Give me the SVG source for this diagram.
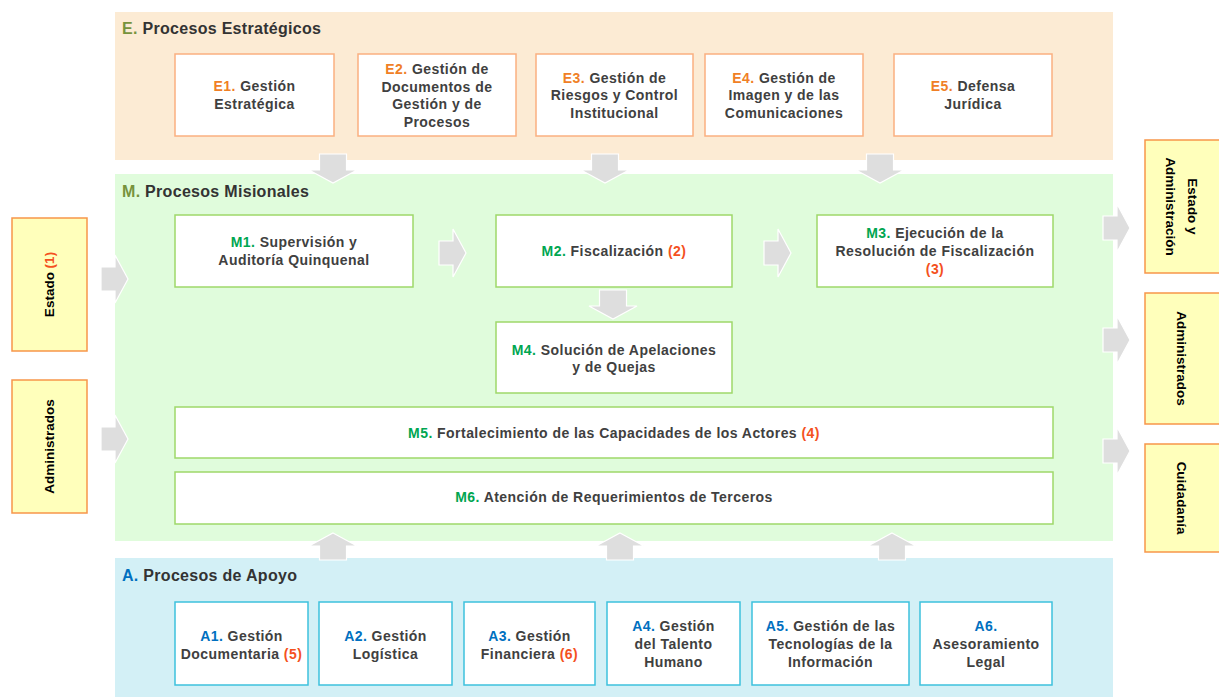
<svg xmlns="http://www.w3.org/2000/svg" width="1219" height="697" viewBox="0 0 1219 697">
<style>
  .t{font-family:"Liberation Sans",Arial,sans-serif;font-weight:bold;font-size:14px;letter-spacing:0.45px;fill:#404040;text-anchor:middle}
  .title{font-family:"Liberation Sans",Arial,sans-serif;font-weight:bold;font-size:16px;letter-spacing:0.3px;fill:#333333}
  .side{font-family:"Liberation Sans",Arial,sans-serif;font-weight:bold;font-size:13.5px;fill:#000;text-anchor:middle}
  .eo{fill:#F07F26}
  .mg{fill:#00A651}
  .ab{fill:#0070C0}
  .ol{fill:#77933C}
  .rd{fill:#F4511E}
  .eb{fill:#fff;stroke:#FAB080;stroke-width:1.5}
  .mb{fill:#fff;stroke:#9ED86A;stroke-width:1.5}
  .abx{fill:#fff;stroke:#3EC1DD;stroke-width:1.5}
  .yb{fill:#FFFFBB;stroke:#F7964A;stroke-width:1.5}
  .arr{fill:#DEDEDE;stroke:#fff;stroke-width:1.2}
</style>
<defs>
  <path id="dn" d="M-13.5,0 H13.5 V16 H24 L0,29 L-24,16 H-13.5 Z"/>
  <path id="up" d="M0,0 L24,13 H13.5 V27 H-13.5 V13 H-24 Z"/>
  <path id="rt" d="M0,-12 H14 V-24 L27,0 L14,24 V12 H0 Z"/>
</defs>

<!-- bands -->
<g id="band-E">
  <rect x="115" y="12" width="998" height="148" fill="#FCEBD4"/>
  <text class="title" x="122" y="34"><tspan class="ol">E.</tspan> Procesos Estratégicos</text>
</g>
<g id="band-M">
  <rect x="115" y="174" width="998" height="367" fill="#E0FCDC"/>
  <text class="title" x="122" y="197"><tspan class="ol">M.</tspan> Procesos Misionales</text>
</g>
<g id="band-A">
  <rect x="115" y="558" width="998" height="139" fill="#D3F0F6"/>
  <text class="title" x="122" y="581"><tspan class="ab">A.</tspan> Procesos de Apoyo</text>
</g>

<!-- connectors -->
<g id="connectors">
  <use href="#dn" class="arr" transform="translate(333,154)"/>
  <use href="#dn" class="arr" transform="translate(605,154)"/>
  <use href="#dn" class="arr" transform="translate(880,154)"/>
  <use href="#dn" class="arr" transform="translate(613,290)"/>
  <use href="#rt" class="arr" transform="translate(439,253)"/>
  <use href="#rt" class="arr" transform="translate(764,253)"/>
  <use href="#rt" class="arr" transform="translate(101,279)"/>
  <use href="#rt" class="arr" transform="translate(101,439)"/>
  <use href="#rt" class="arr" transform="translate(1103,228)"/>
  <use href="#rt" class="arr" transform="translate(1103,340)"/>
  <use href="#rt" class="arr" transform="translate(1103,451)"/>
  <use href="#up" class="arr" transform="translate(333,533)"/>
  <use href="#up" class="arr" transform="translate(620,533)"/>
  <use href="#up" class="arr" transform="translate(892,533)"/>
</g>

<!-- E nodes -->
<g id="E1"><rect class="eb" x="175" y="54" width="159" height="82"/>
  <text class="t" x="254.5" y="91"><tspan class="eo">E1.</tspan> Gestión</text>
  <text class="t" x="254.5" y="109">Estratégica</text></g>
<g id="E2"><rect class="eb" x="358" y="54" width="158" height="82"/>
  <text class="t" x="437" y="74"><tspan class="eo">E2.</tspan> Gestión de</text>
  <text class="t" x="437" y="92">Documentos de</text>
  <text class="t" x="437" y="109">Gestión y de</text>
  <text class="t" x="437" y="127">Procesos</text></g>
<g id="E3"><rect class="eb" x="536" y="54" width="157" height="82"/>
  <text class="t" x="614.5" y="83"><tspan class="eo">E3.</tspan> Gestión de</text>
  <text class="t" x="614.5" y="100">Riesgos y Control</text>
  <text class="t" x="614.5" y="118">Institucional</text></g>
<g id="E4"><rect class="eb" x="705" y="54" width="158" height="82"/>
  <text class="t" x="784" y="83"><tspan class="eo">E4.</tspan> Gestión de</text>
  <text class="t" x="784" y="100">Imagen y de las</text>
  <text class="t" x="784" y="118">Comunicaciones</text></g>
<g id="E5"><rect class="eb" x="894" y="54" width="158" height="82"/>
  <text class="t" x="973" y="91"><tspan class="eo">E5.</tspan> Defensa</text>
  <text class="t" x="973" y="109">Jurídica</text></g>

<!-- M nodes -->
<g id="M1"><rect class="mb" x="175" y="215" width="238" height="72"/>
  <text class="t" x="294" y="247"><tspan class="mg">M1.</tspan> Supervisión y</text>
  <text class="t" x="294" y="265">Auditoría Quinquenal</text></g>
<g id="M2"><rect class="mb" x="496" y="215" width="236" height="72"/>
  <text class="t" x="614" y="256"><tspan class="mg">M2.</tspan> Fiscalización <tspan class="rd">(2)</tspan></text></g>
<g id="M3"><rect class="mb" x="817" y="215" width="236" height="72"/>
  <text class="t" x="935" y="238"><tspan class="mg">M3.</tspan> Ejecución de la</text>
  <text class="t" x="935" y="256">Resolución de Fiscalización</text>
  <text class="t rd" x="935" y="274">(3)</text></g>
<g id="M4"><rect class="mb" x="496" y="322" width="236" height="71"/>
  <text class="t" x="614" y="355"><tspan class="mg">M4.</tspan> Solución de Apelaciones</text>
  <text class="t" x="614" y="372">y de Quejas</text></g>
<g id="M5"><rect class="mb" x="175" y="407" width="878" height="51"/>
  <text class="t" x="614" y="438"><tspan class="mg">M5.</tspan> Fortalecimiento de las Capacidades de los Actores <tspan class="rd">(4)</tspan></text></g>
<g id="M6"><rect class="mb" x="175" y="472" width="878" height="52"/>
  <text class="t" x="614" y="502"><tspan class="mg">M6.</tspan> Atención de Requerimientos de Terceros</text></g>

<!-- A nodes -->
<g id="A1"><rect class="abx" x="175" y="602" width="133" height="83"/>
  <text class="t" x="241.5" y="641"><tspan class="ab">A1.</tspan> Gestión</text>
  <text class="t" x="241.5" y="659">Documentaria <tspan class="rd">(5)</tspan></text></g>
<g id="A2"><rect class="abx" x="319" y="602" width="133" height="83"/>
  <text class="t" x="385.5" y="641"><tspan class="ab">A2.</tspan> Gestión</text>
  <text class="t" x="385.5" y="659">Logística</text></g>
<g id="A3"><rect class="abx" x="464" y="602" width="131" height="83"/>
  <text class="t" x="529.5" y="641"><tspan class="ab">A3.</tspan> Gestión</text>
  <text class="t" x="529.5" y="659">Financiera <tspan class="rd">(6)</tspan></text></g>
<g id="A4"><rect class="abx" x="607" y="602" width="133" height="83"/>
  <text class="t" x="673.5" y="631"><tspan class="ab">A4.</tspan> Gestión</text>
  <text class="t" x="673.5" y="649">del Talento</text>
  <text class="t" x="673.5" y="667">Humano</text></g>
<g id="A5"><rect class="abx" x="752" y="602" width="157" height="83"/>
  <text class="t" x="830.5" y="631"><tspan class="ab">A5.</tspan> Gestión de las</text>
  <text class="t" x="830.5" y="649">Tecnologías de la</text>
  <text class="t" x="830.5" y="667">Información</text></g>
<g id="A6"><rect class="abx" x="920" y="602" width="132" height="83"/>
  <text class="t ab" x="986" y="631">A6.</text>
  <text class="t" x="986" y="649">Asesoramiento</text>
  <text class="t" x="986" y="667">Legal</text></g>

<!-- side nodes -->
<g id="in-estado"><rect class="yb" x="12" y="218" width="75" height="133"/>
  <text class="side" transform="translate(54,284.5) rotate(-90)">Estado <tspan class="rd">(1)</tspan></text></g>
<g id="in-administrados"><rect class="yb" x="12" y="380" width="75" height="133"/>
  <text class="side" transform="translate(54,446.5) rotate(-90)">Administrados</text></g>
<g id="out-estado-adm"><rect class="yb" x="1145" y="140" width="80" height="133"/>
  <text class="side" transform="translate(1181,206.5) rotate(90)"><tspan x="0" y="-6.5">Estado y</tspan><tspan x="0" y="15">Administración</tspan></text></g>
<g id="out-administrados"><rect class="yb" x="1145" y="293" width="80" height="131"/>
  <text class="side" transform="translate(1177,358.5) rotate(90)">Administrados</text></g>
<g id="out-ciudadania"><rect class="yb" x="1145" y="444" width="80" height="108"/>
  <text class="side" transform="translate(1177,498) rotate(90)">Cuidadanía</text></g>
</svg>
